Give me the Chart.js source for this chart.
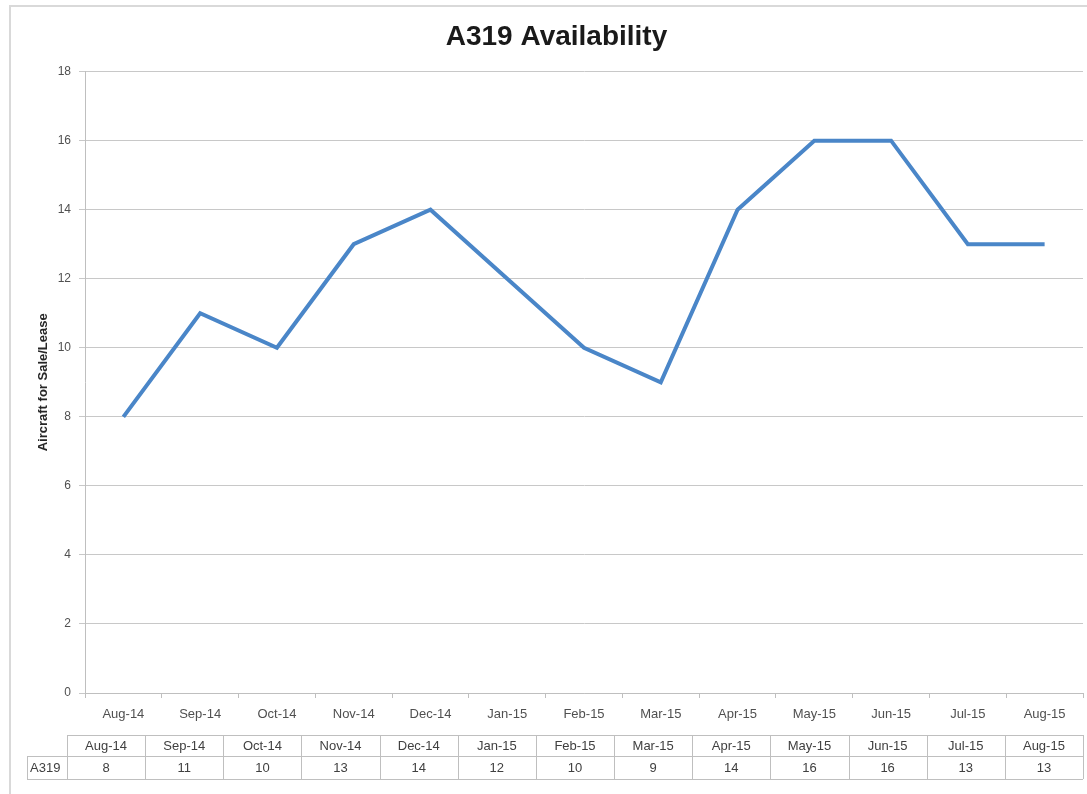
<!DOCTYPE html>
<html lang="en">
<head>
    <meta charset="UTF-8">
    <title>A319 Availability</title>
    <script src="https://cdn.jsdelivr.net/npm/chart.js@4.4.0/dist/chart.umd.min.js"></script>
    <style>
        body {
            margin: 0;
            background-color: white;
            overflow: hidden;
        }
        .frame {
            position: absolute;
            left: 9px;
            top: 5px;
            width: 1200px;
            height: 900px;
            border: 2px solid #d9d9d9;
        }
        .chart-box {
            position: absolute;
            left: 0;
            top: 0;
            width: 1087px;
            height: 794px;
        }
    </style>
</head>
<body>
    <div class="frame"></div>
    <div class="chart-box">
        <canvas id="avail-chart"></canvas>
    </div>

    <script>
        const months = ['Aug-14', 'Sep-14', 'Oct-14', 'Nov-14', 'Dec-14', 'Jan-15', 'Feb-15',
                        'Mar-15', 'Apr-15', 'May-15', 'Jun-15', 'Jul-15', 'Aug-15'];
        const a319 = [8, 11, 10, 13, 14, 12, 10, 9, 14, 16, 16, 13, 13];
        const seriesName = 'A319';

        const textColor = '#505050';
        const lineColor = '#bfbfbf';
        const baseFont = 'Liberation Sans, Arial, sans-serif';

        // data table under the x axis (its columns are a bit narrower-offset than the axis in the original)
        const dataTable = {
            id: 'dataTable',
            afterDraw(chart) {
                const ctx = chart.ctx;
                const n = months.length;
                const labelLeft = 27;
                const left = 67;
                const right = chart.chartArea.right;
                const step = (right - left) / n;
                const top = chart.chartArea.bottom + 42;
                const mid = top + 21;
                const bottom = mid + 23;

                ctx.save();
                ctx.strokeStyle = lineColor;
                ctx.lineWidth = 1;
                ctx.beginPath();
                ctx.moveTo(left, top + 0.5); ctx.lineTo(right, top + 0.5);
                ctx.moveTo(labelLeft, mid + 0.5); ctx.lineTo(right, mid + 0.5);
                ctx.moveTo(labelLeft, bottom + 0.5); ctx.lineTo(right, bottom + 0.5);
                ctx.moveTo(labelLeft + 0.5, mid); ctx.lineTo(labelLeft + 0.5, bottom);
                for (let i = 0; i <= n; i++) {
                    const x = Math.round(left + i * step) + 0.5;
                    ctx.moveTo(x, top); ctx.lineTo(x, bottom);
                }
                ctx.stroke();

                ctx.fillStyle = '#404040';
                ctx.font = '13px ' + baseFont;
                ctx.textBaseline = 'middle';
                ctx.textAlign = 'center';
                months.forEach((m, i) => {
                    const cx = left + (i + 0.5) * step;
                    ctx.fillText(m, cx, (top + mid) / 2 + 1);
                    ctx.fillText(String(a319[i]), cx, (mid + bottom) / 2 + 1);
                });
                ctx.textAlign = 'left';
                ctx.fillText(seriesName, labelLeft + 3, (mid + bottom) / 2 + 1);
                ctx.restore();
            }
        };

        const ctx = document.getElementById('avail-chart').getContext('2d');
        new Chart(ctx, {
            type: 'line',
            data: {
                labels: months,
                datasets: [{
                    label: seriesName,
                    data: a319,
                    borderColor: '#4a86c8',
                    borderWidth: 4,
                    tension: 0,
                    pointRadius: 0,
                    pointHoverRadius: 0,
                    fill: false
                }]
            },
            options: {
                responsive: true,
                maintainAspectRatio: false,
                animation: false,
                layout: {
                    padding: { left: 30, right: 4, top: 0, bottom: 0 }
                },
                plugins: {
                    legend: { display: false },
                    tooltip: { enabled: false },
                    title: {
                        display: true,
                        text: 'A319 Availability',
                        color: '#1a1a1a',
                        font: { family: baseFont, size: 28, weight: 'bold' },
                        padding: { top: 20, bottom: 18 }
                    }
                },
                scales: {
                    x: {
                        offset: true,
                        grid: {
                            offset: true,
                            drawOnChartArea: false,
                            drawTicks: true,
                            tickLength: 5,
                            color: lineColor
                        },
                        border: { color: lineColor },
                        ticks: {
                            color: textColor,
                            padding: 9,
                            maxRotation: 0,
                            autoSkip: false,
                            font: { family: baseFont, size: 13 }
                        },
                        afterFit(scale) { scale.height = 101; }
                    },
                    y: {
                        min: 0,
                        max: 18,
                        grid: {
                            color: '#c8c8c8',
                            tickLength: 6
                        },
                        border: { color: lineColor },
                        ticks: {
                            stepSize: 2,
                            color: textColor,
                            padding: 8,
                            font: { family: baseFont, size: 12 }
                        },
                        title: {
                            display: true,
                            text: 'Aircraft for Sale/Lease',
                            color: '#262626',
                            font: { family: baseFont, size: 13, weight: 'bold' },
                            padding: { top: 6, bottom: 0 }
                        },
                        afterFit(scale) { scale.width = 55; }
                    }
                }
            },
            plugins: [dataTable]
        });
    </script>
</body>
</html>
